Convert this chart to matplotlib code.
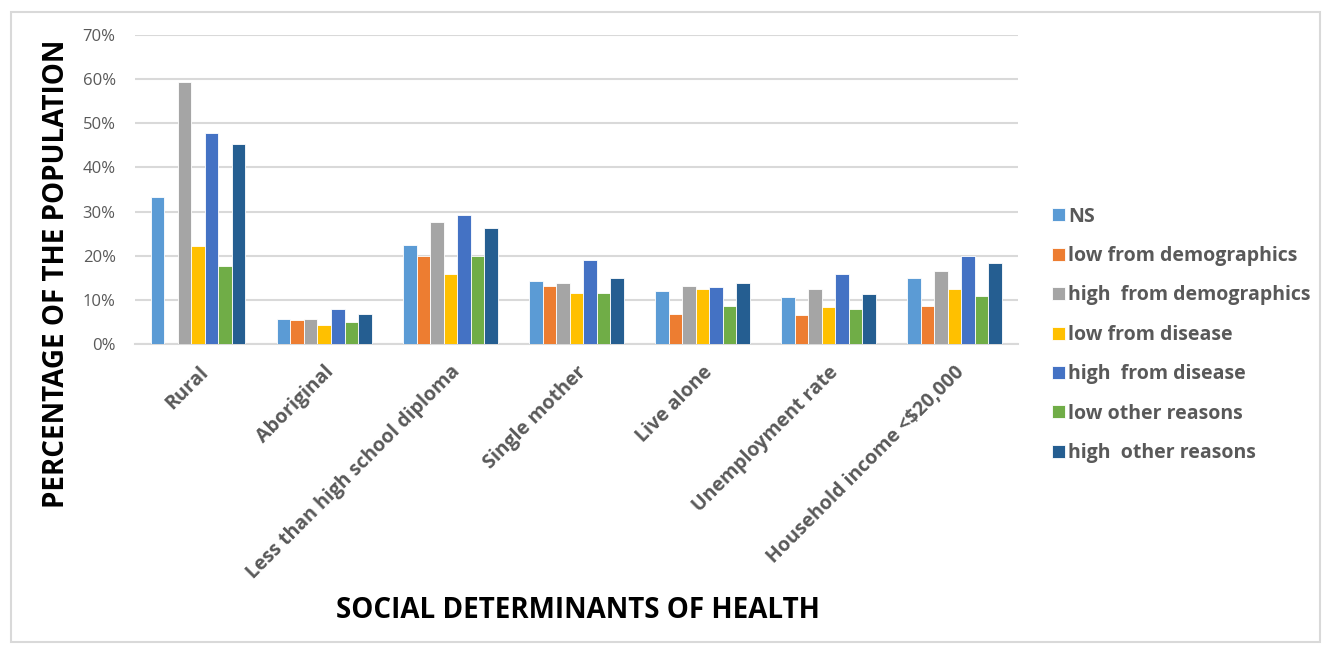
import numpy as np
import matplotlib.pyplot as plt
from matplotlib.patches import Rectangle
from matplotlib.ticker import PercentFormatter

plt.rcParams['font.family'] = ['Open Sans', 'DejaVu Sans']

# data (percent)
categories = ['Rural', 'Aboriginal', 'Less than high school diploma', 'Single mother',
              'Live alone', 'Unemployment rate', 'Household income <$20,000']
series_names = ['NS', 'low from demographics', 'high  from demographics', 'low from disease',
                'high  from disease', 'low other reasons', 'high  other reasons']
ns = [33.3, 5.7, 22.4, 14.3, 12.0, 10.6, 15.0]
low_demo = [0.0, 5.4, 19.9, 13.1, 6.8, 6.5, 8.7]
high_demo = [59.4, 5.7, 27.7, 13.8, 13.1, 12.4, 16.5]
low_disease = [22.1, 4.3, 15.8, 11.6, 12.4, 8.4, 12.4]
high_disease = [47.8, 7.9, 29.2, 19.1, 12.8, 15.8, 19.9]
low_other = [17.7, 5.0, 19.9, 11.6, 8.7, 7.9, 10.9]
high_other = [45.2, 6.8, 26.2, 15.0, 13.9, 11.3, 18.3]

all_series = [ns, low_demo, high_demo, low_disease, high_disease, low_other, high_other]
colors = ['#5b9bd5', '#ed7d31', '#a5a5a5', '#ffc000', '#4472c4', '#70ad47', '#255e91']

fig = plt.figure(figsize=(13.25, 6.52), dpi=100)
ax = fig.add_axes([0.102, 0.4724, 0.666, 0.474])

x = np.arange(len(categories))
n = len(all_series)
bw = 0.75 / n
for i, (vals, c, name) in enumerate(zip(all_series, colors, series_names)):
    ax.bar(x + (i - (n - 1) / 2) * bw, vals, bw, color=c, label=name,
           edgecolor='white', linewidth=0.6, zorder=3)

ax.set_xlim(-0.5, len(categories) - 0.5)
ax.set_ylim(0, 70)
ax.set_yticks(np.arange(0, 71, 10))
ax.yaxis.set_major_formatter(PercentFormatter(decimals=0))
ax.grid(axis='y', color='#d9d9d9', linewidth=1.5, zorder=0)
for s in ['top', 'right', 'left']:
    ax.spines[s].set_visible(False)
ax.spines['bottom'].set_color('#d9d9d9')
ax.spines['bottom'].set_linewidth(1.5)
ax.tick_params(axis='both', length=0, colors='#595959')
ax.tick_params(axis='y', labelsize=12, pad=14)
ax.set_xticks(x)
ax.set_xticklabels(categories, rotation=45, ha='right', rotation_mode='anchor',
                   fontsize=14, fontweight='bold', color='#595959')
ax.tick_params(axis='x', pad=13)

fig.text(0.043, 0.58, 'PERCENTAGE OF THE POPULATION', rotation=90, ha='center', va='center',
         fontsize=20, fontweight='bold', color='black')
fig.text(0.436, 0.063, 'SOCIAL DETERMINANTS OF HEALTH', ha='center', va='center',
         fontsize=20, fontweight='bold', color='black')

leg = fig.legend(loc='upper left', bbox_to_anchor=(0.781, 0.71), frameon=False,
                 handlelength=0.65, handleheight=0.65, handletextpad=0.15,
                 labelspacing=1.0, prop={'size': 14, 'weight': 'bold'})
for t in leg.get_texts():
    t.set_color('#595959')

fig.patches.append(Rectangle((0.008, 0.015), 0.988, 0.967, transform=fig.transFigure,
                             fill=False, edgecolor='#d9d9d9', linewidth=1.5))

fig.savefig('out.png', dpi=100)
